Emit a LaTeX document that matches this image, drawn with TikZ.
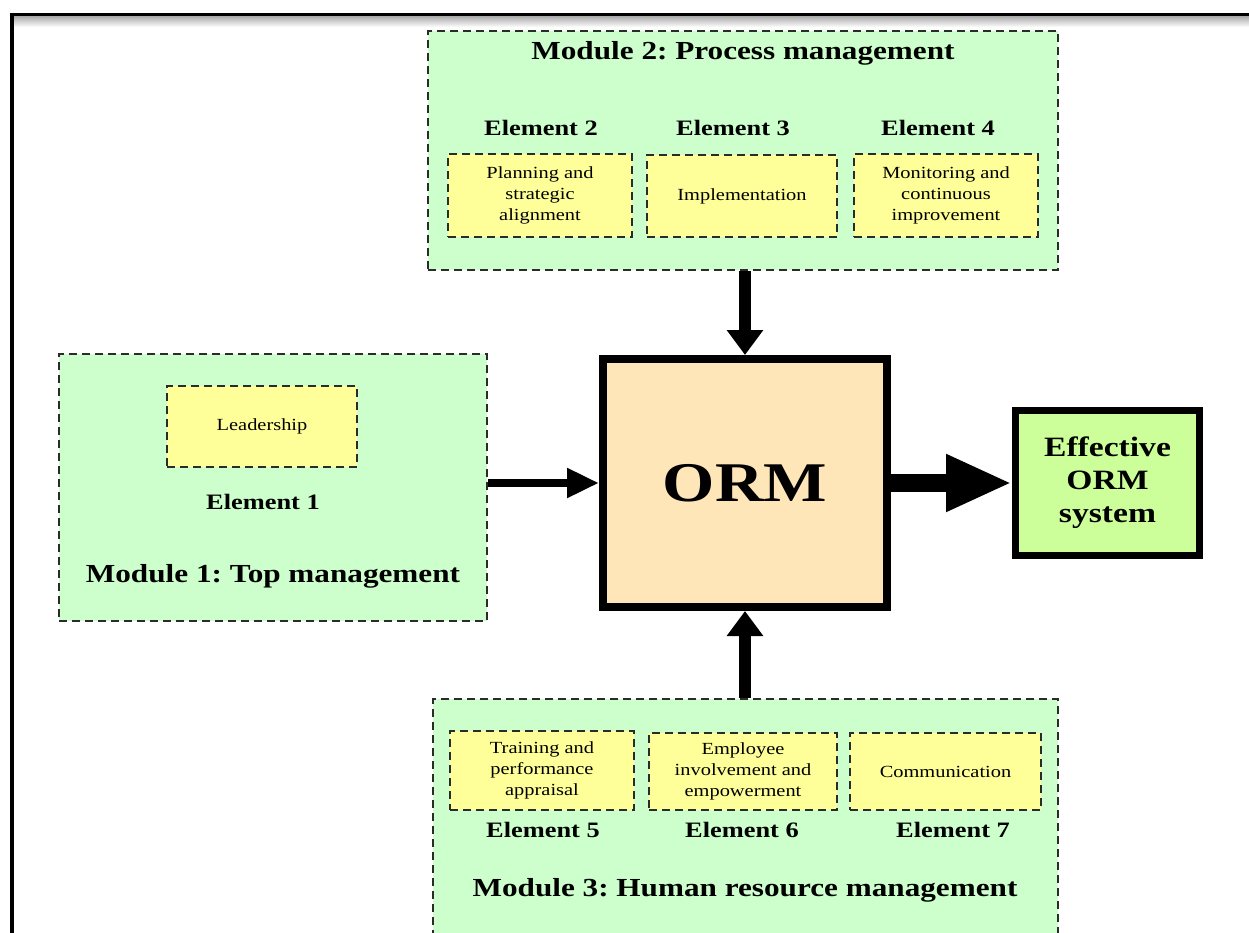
\documentclass[tikz,border=0pt]{standalone}
\usepackage{fontspec}
\setmainfont{Liberation Serif}
\usepackage{graphicx}
\usetikzlibrary{arrows.meta}

\definecolor{modfill}{HTML}{CCFFCC}
\definecolor{elfill}{HTML}{FFFF99}
\definecolor{ormfill}{HTML}{FFE6B8}
\definecolor{efffill}{HTML}{CCFF99}
\definecolor{dashcol}{HTML}{2B2B2B}

% slightly widened lettering
\newcommand{\wx}[1]{\scalebox{1.2}[1]{#1}}
\newcommand{\lines}[1]{\wx{\begin{tabular}{@{}c@{}}#1\end{tabular}}}

\begin{document}
\frenchspacing
\begin{tikzpicture}[x=1pt,y=-1pt,
  module/.style={draw=dashcol, fill=modfill, line width=1.8pt,
    dash pattern=on 8pt off 5pt, inner sep=0pt},
  elbox/.style={draw=dashcol, fill=elfill, line width=1.8pt,
    dash pattern=on 8pt off 5pt, inner sep=0pt,
    font=\fontsize{17}{21}\selectfont},
  modtitle/.style={font=\fontsize{26}{30}\selectfont\bfseries, inner sep=0pt},
  ellabel/.style={font=\fontsize{22}{26}\selectfont\bfseries, inner sep=0pt},
  arr/.style={draw=black}
]
\useasboundingbox (0,0) rectangle (1249,933);
\clip (0,0) rectangle (1249,933);

% page frame
\fill[black] (10,13) rectangle (1249,16.5);
\shade[top color=gray!65, bottom color=white] (14,16.5) rectangle (1249,27);
\fill[black] (10,13) rectangle (14,933);

% Module 2
\node[module, minimum width=630, minimum height=239] (m2) at (743,150.5) {};
\node[modtitle] (m2t) at (743,53) {\wx{Module 2: Process management}};
\node[ellabel] (l2) at (541,128) {\wx{Element 2}};
\node[ellabel] (l3) at (733,128) {\wx{Element 3}};
\node[ellabel] (l4) at (938,128) {\wx{Element 4}};
\node[elbox, minimum width=184, minimum height=83] (e2) at (540,195.5)
  {\lines{Planning and\\strategic\\alignment}};
\node[elbox, minimum width=190, minimum height=82] (e3) at (742,196)
  {\wx{Implementation}};
\node[elbox, minimum width=184, minimum height=83] (e4) at (946,195.5)
  {\lines{Monitoring and\\continuous\\improvement}};

% Module 1
\node[module, minimum width=428, minimum height=267] (m1) at (273,487.5) {};
\node[elbox, minimum width=190, minimum height=81] (e1) at (262,426.5)
  {\wx{Leadership}};
\node[ellabel] (l1) at (263,502) {\wx{Element 1}};
\node[modtitle] (m1t) at (273,576) {\wx{Module 1: Top management}};

% Module 3
\node[module, minimum width=625, minimum height=261] (m3) at (745.5,829.5) {};
\node[elbox, minimum width=184, minimum height=79] (e5) at (542,770.5)
  {\lines{Training and\\performance\\appraisal}};
\node[elbox, minimum width=188, minimum height=77] (e6) at (743,771.5)
  {\lines{Employee\\involvement and\\empowerment}};
\node[elbox, minimum width=191, minimum height=77] (e7) at (945.5,771.5)
  {\wx{Communication}};
\node[ellabel] (l5) at (543,830) {\wx{Element 5}};
\node[ellabel] (l6) at (742,830) {\wx{Element 6}};
\node[ellabel] (l7) at (953,830) {\wx{Element 7}};
\node[modtitle] (m3t) at (745,890) {\wx{Module 3: Human resource management}};

% core and outcome
\node[draw=black, fill=ormfill, line width=8pt, minimum width=284,
  minimum height=248, inner sep=0pt,
  font=\fontsize{56}{60}\selectfont\bfseries] (orm) at (745,483) {\wx{ORM}};
\node[draw=black, fill=efffill, line width=7pt, minimum width=184,
  minimum height=145, inner sep=0pt,
  font=\fontsize{28}{33}\selectfont\bfseries] (eff) at (1107.5,483)
  {\lines{Effective\\ORM\\system}};

% connectors
\draw[arr, line width=12pt, -{Triangle[width=35pt,length=25pt]}]
  (orm.north |- m2.south) -- (orm.north);
\draw[arr, line width=12pt, -{Triangle[width=35pt,length=25pt]}]
  (orm.south |- m3.north) -- (orm.south);
\draw[arr, line width=8pt, -{Triangle[width=28pt,length=32pt]}]
  (m1.east |- orm.west) -- (orm.west);
\draw[arr, line width=18pt, -{Triangle[width=53pt,length=66pt]}]
  (orm.east) -- (eff.west);
\end{tikzpicture}
\end{document}
